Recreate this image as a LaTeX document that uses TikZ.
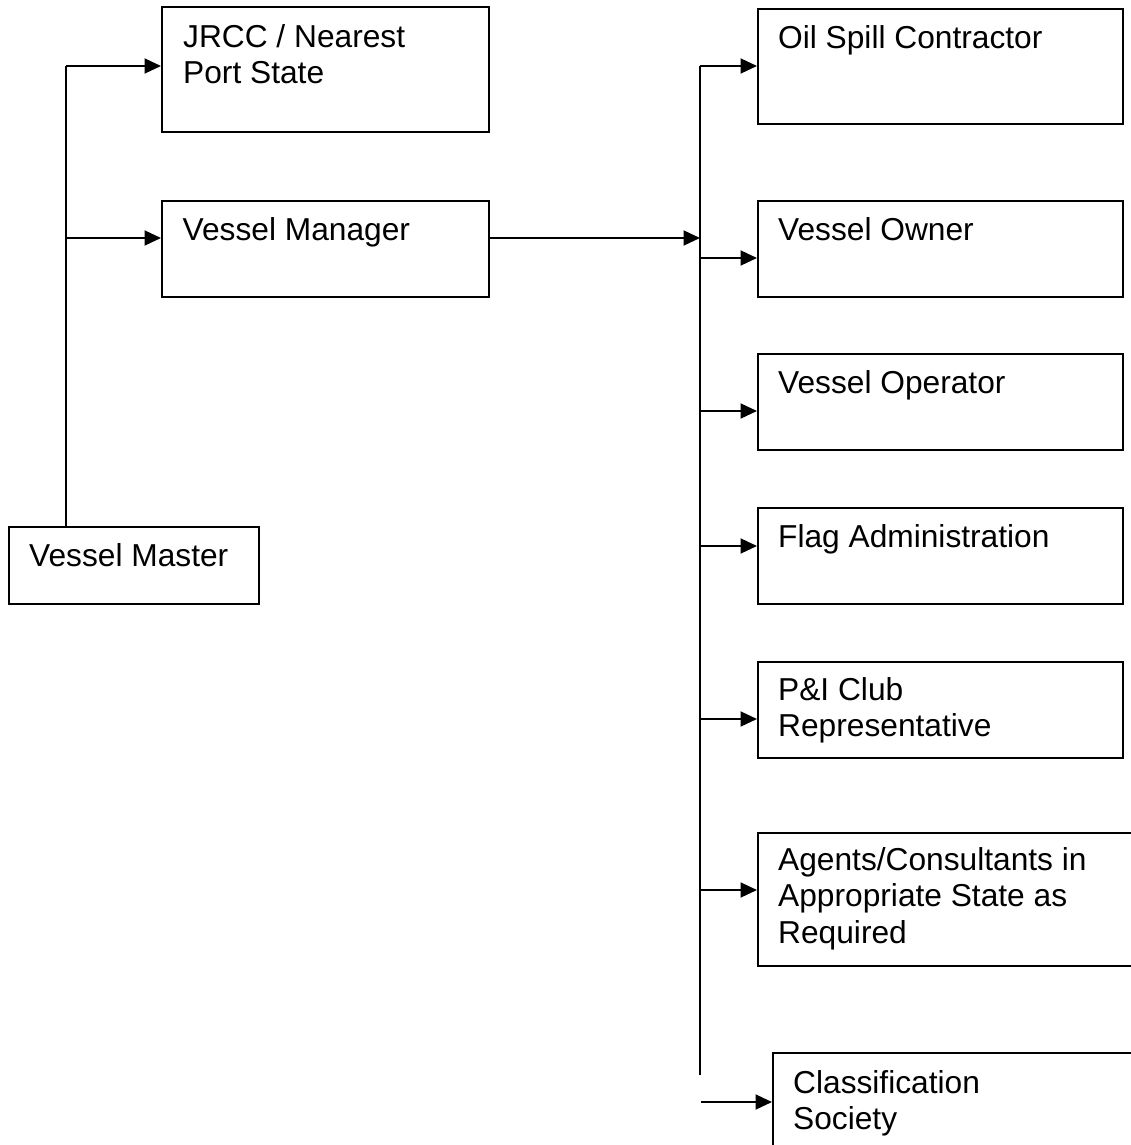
\documentclass[tikz,border=0pt]{standalone}
\usepackage{fontspec}
\setmainfont{Liberation Sans}
\usetikzlibrary{arrows.meta,calc}
\begin{document}
\begin{tikzpicture}[x=1pt,y=-1pt,
  box/.style={draw=black,line width=1.9pt,rectangle,inner sep=0pt,anchor=north west},
  txt/.style={inner sep=0pt,anchor=north west,align=left,font=\fontsize{31.7}{36.5}\selectfont},
  wire/.style={line width=1.9pt},
  arr/.style={line width=1.9pt,-{Triangle[length=16.5pt,width=15pt]}}]
\path[use as bounding box,clip] (0,0) rectangle (1131,1145);
\fill[white] (0,0) rectangle (1131,1145);
% boxes
\node[box,minimum width=327pt,minimum height=125pt] (jrcc) at (161,6) {};
\node[box,minimum width=327pt,minimum height=96pt] (vm) at (161,200) {};
\node[box,minimum width=250pt,minimum height=77pt] (master) at (8,526) {};
\node[box,minimum width=365pt,minimum height=115pt] (oil) at (757,8) {};
\node[box,minimum width=365pt,minimum height=96pt] (owner) at (757,200) {};
\node[box,minimum width=365pt,minimum height=96pt] (oper) at (757,353) {};
\node[box,minimum width=365pt,minimum height=96pt] (flag) at (757,507) {};
\node[box,minimum width=365pt,minimum height=96pt] (pi) at (757,661) {};
\node[box,minimum width=390pt,minimum height=133pt] (agents) at (757,832) {};
\node[box,minimum width=380pt,minimum height=120pt] (class) at (772,1052) {};
% texts
\node[txt] (tjrcc) at ($(jrcc.north west)+(22,18)$) {\rule{0pt}{23pt}JRCC / Nearest\\Port State};
\node[txt] (tvm) at ($(vm.north west)+(21.5,17)$) {\rule{0pt}{23pt}Vessel Manager};
\node[txt] (tmaster) at ($(master.north west)+(21,17)$) {\rule{0pt}{23pt}Vessel Master};
\node[txt] (toil) at ($(oil.north west)+(21,17)$) {\rule{0pt}{23pt}Oil Spill Contractor};
\node[txt] (towner) at ($(owner.north west)+(21,17)$) {\rule{0pt}{23pt}Vessel Owner};
\node[txt] (toper) at ($(oper.north west)+(21,17)$) {\rule{0pt}{23pt}Vessel Operator};
\node[txt] (tflag) at ($(flag.north west)+(21,17)$) {\rule{0pt}{23pt}Flag Administration};
\node[txt] (tpi) at ($(pi.north west)+(21,16)$) {\rule{0pt}{23pt}P\&I Club\\Representative};
\node[txt] (tagents) at ($(agents.north west)+(21,15)$) {\rule{0pt}{23pt}Agents/Consultants in\\Appropriate State as\\Required};
\node[txt] (tclass) at ($(class.north west)+(21,18)$) {\rule{0pt}{23pt}Classification\\Society};
% left bus
\coordinate (ltop) at (66,66);
\coordinate (lvm) at (66,238);
\draw[wire] (master.north -| ltop) -- (ltop);
\draw[arr] (ltop) -- (ltop -| jrcc.west);
\draw[arr] (lvm) -- (lvm -| vm.west);
% right bus
\coordinate (rtop) at (700,66);
\coordinate (rbot) at (700,1075);
\coordinate (rvm) at (700,238);
\draw[wire] (rtop) -- (rbot);
\draw[arr] (rvm -| vm.east) -- (rvm);
\coordinate (r1) at (700,258);
\coordinate (r2) at (700,411);
\coordinate (r3) at (700,546);
\coordinate (r4) at (700,719);
\coordinate (r5) at (700,890);
\coordinate (r6) at (701,1102);
\draw[arr] (rtop) -- (rtop -| oil.west);
\draw[arr] (r1) -- (r1 -| owner.west);
\draw[arr] (r2) -- (r2 -| oper.west);
\draw[arr] (r3) -- (r3 -| flag.west);
\draw[arr] (r4) -- (r4 -| pi.west);
\draw[arr] (r5) -- (r5 -| agents.west);
\draw[arr] (r6) -- (r6 -| class.west);
\end{tikzpicture}
\end{document}
